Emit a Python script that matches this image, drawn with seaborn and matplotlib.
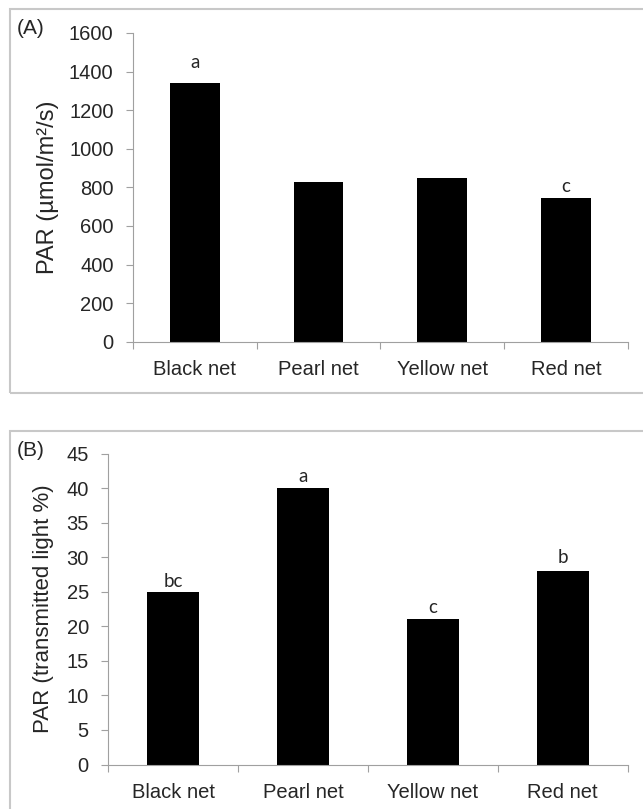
import matplotlib
matplotlib.use("Agg")
import matplotlib.pyplot as plt
import seaborn as sns
from matplotlib.patches import Rectangle

nets = ["Black net", "Pearl net", "Yellow net", "Red net"]
par_umol = [1340, 830, 850, 745]
par_umol_letters = ["a", "", "", "c"]
par_pct = [25, 40, 21, 28]
par_pct_letters = ["bc", "a", "c", "b"]

W, H = 643, 809
sns.set_style("white")
plt.rcParams['font.family'] = ['Liberation Sans', 'DejaVu Sans']

fig = plt.figure(figsize=(W / 100, H / 100), dpi=100)
axis_gray = '#a0a0a0'


def px_rect(x0, y0, x1, y1):
    # pixel box (top-left origin) -> figure fraction
    return [x0 / W, 1 - y1 / H, (x1 - x0) / W, (y1 - y0) / H]


# light frames around each panel (they run off the right / bottom edge)
for y0, y1 in [(8.5, 392.5), (431, 840)]:
    r = px_rect(10, y0, 680, y1)
    fig.patches.append(Rectangle((r[0], r[1]), r[2], r[3], transform=fig.transFigure,
                                 fill=False, edgecolor='#c8c8c8', lw=1.5))


def panel(rect, values, letters, offsets, ymax, step, ylabel, label_size, label_x, tag, tag_y):
    ax = fig.add_axes(px_rect(*rect))
    sns.barplot(x=nets, y=values, color='black', saturation=1, width=0.4,
                linewidth=0, ax=ax)
    ax.set_ylim(0, ymax)
    ax.set_yticks(range(0, ymax + 1, step))
    ax.set_xlim(-0.5, 3.5)
    # excel style: ticks between categories, labels centred
    ax.set_xticks([-0.5, 0.5, 1.5, 2.5, 3.5])
    ax.set_xticklabels([])
    ax.set_xticks(range(4), minor=True)
    ax.set_xticklabels(nets, minor=True)
    ax.tick_params(axis='x', which='major', direction='out', length=5, width=0.8,
                   color=axis_gray, bottom=True)
    ax.tick_params(axis='x', which='minor', length=0, pad=13, labelsize=14.5)
    ax.tick_params(axis='y', direction='out', length=5, width=0.8, color=axis_gray,
                   left=True, pad=9, labelsize=14.5)
    sns.despine(ax=ax)
    for s in ['left', 'bottom']:
        ax.spines[s].set_color(axis_gray)
        ax.spines[s].set_linewidth(0.8)
    ax.set_xlabel('')
    ax.set_ylabel(ylabel, fontsize=label_size, va='center')
    ax.yaxis.set_label_coords(label_x, 0.5)
    for i, (v, t) in enumerate(zip(values, letters)):
        if t:
            ax.annotate(t, (i, v), xytext=(0, offsets[i]), textcoords='offset points',
                        ha='center', va='baseline', fontsize=13.5, family=['Lato', 'DejaVu Sans'])
    fig.text(17 / W, 1 - tag_y / H, tag, ha='left', va='center', fontsize=15)
    return ax


panel((133, 33, 627.7, 341.7), par_umol, par_umol_letters, [11, 0, 0, 4],
      1600, 200, 'PAR (µmol/m²/s)', 17, -0.172, '(A)', 28)
panel((108.3, 453.5, 627.7, 764.5), par_pct, par_pct_letters, [3.5, 4.3, 4.3, 5.8],
      45, 5, 'PAR (transmitted light %)', 16, -0.124, '(B)', 450)

fig.savefig('out.png', dpi=100)
